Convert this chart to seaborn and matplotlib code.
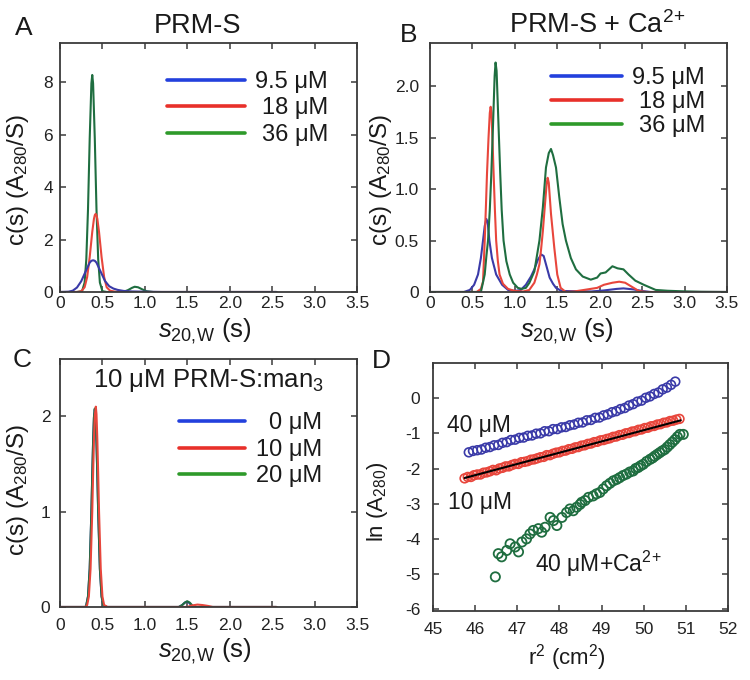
import matplotlib
matplotlib.use("Agg")
import matplotlib.pyplot as plt
import seaborn as sns
from matplotlib.lines import Line2D

# ---------------- data ----------------
s_ticks = [0, 0.5, 1.0, 1.5, 2.0, 2.5, 3.0, 3.5]
s_ticklabels = ["0", "0.5", "1.0", "1.5", "2.0", "2.5", "3.0", "3.5"]

# Panel A: PRM-S
a_blue_s = [0.0, 0.1, 0.15, 0.2, 0.25, 0.3, 0.35, 0.37, 0.39, 0.41, 0.43, 0.48, 0.53, 0.58, 0.63, 0.68, 0.75, 0.85, 1.0, 1.2, 2.55]
a_blue_c = [0.0, 0.01, 0.05, 0.17, 0.41, 0.77, 1.12, 1.19, 1.21, 1.19, 1.12, 0.77, 0.42, 0.22, 0.13, 0.08, 0.04, 0.02, 0.01, 0.0, 0.0]
a_red_s = [0.0, 0.2, 0.25, 0.29, 0.32, 0.35, 0.38, 0.40, 0.41, 0.42, 0.43, 0.44, 0.46, 0.49, 0.52, 0.55, 0.59, 0.65, 0.8, 2.55]
a_red_c = [0.0, 0.0, 0.025, 0.18, 0.57, 1.33, 2.29, 2.79, 2.93, 2.98, 2.93, 2.79, 2.29, 1.33, 0.57, 0.18, 0.05, 0.01, 0.0, 0.0]
a_green_s = [0.0, 0.2, 0.26, 0.29, 0.31, 0.33, 0.35, 0.37, 0.38, 0.39, 0.41, 0.43, 0.45, 0.47, 0.50, 0.55, 0.7, 0.75, 0.8, 0.85, 0.88, 0.92, 0.97, 1.02, 1.1, 2.55]
a_green_c = [0.0, 0.0, 0.03, 0.36, 1.25, 3.15, 5.85, 7.96, 8.28, 7.96, 5.85, 3.15, 1.25, 0.36, 0.03, 0.0, 0.0, 0.01, 0.07, 0.16, 0.2, 0.18, 0.1, 0.03, 0.0, 0.0]
a_yticks = [0, 2, 4, 6, 8]
a_labels = ["9.5 \u03bcM", "18 \u03bcM", "36 \u03bcM"]

# Panel B: PRM-S + Ca2+
b_blue_s = [0.0, 0.4, 0.47, 0.52, 0.566, 0.6, 0.625, 0.645, 0.664, 0.68, 0.70, 0.73, 0.78, 0.85, 0.92, 1.0, 1.07, 1.13, 1.19, 1.23, 1.27, 1.31, 1.34, 1.37, 1.41, 1.45, 1.485, 1.55, 1.9, 2.05, 2.2, 2.28, 2.4, 2.5, 2.6, 3.5]
b_blue_c = [0.0, 0.0, 0.02, 0.07, 0.17, 0.33, 0.5, 0.64, 0.71, 0.68, 0.5, 0.33, 0.17, 0.07, 0.02, 0.01, 0.02, 0.07, 0.15, 0.22, 0.31, 0.365, 0.35, 0.26, 0.14, 0.08, 0.04, 0.01, 0.005, 0.015, 0.03, 0.035, 0.025, 0.01, 0.0, 0.0]
b_red_s = [0.0, 0.55, 0.6, 0.625, 0.645, 0.66, 0.672, 0.69, 0.705, 0.715, 0.725, 0.74, 0.75, 0.765, 0.78, 0.80, 0.82, 0.86, 0.92, 1.0, 1.1, 1.17, 1.23, 1.26, 1.29, 1.31, 1.33, 1.355, 1.375, 1.387, 1.40, 1.426, 1.445, 1.465, 1.50, 1.54, 1.6, 1.7, 1.97, 2.05, 2.15, 2.23, 2.3, 2.38, 2.46, 2.55, 3.5]
b_red_c = [0.0, 0.0, 0.03, 0.1, 0.5, 0.85, 1.15, 1.5, 1.74, 1.80, 1.74, 1.4, 1.15, 0.8, 0.5, 0.3, 0.17, 0.08, 0.03, 0.01, 0.005, 0.02, 0.09, 0.17, 0.27, 0.42, 0.59, 0.85, 1.05, 1.11, 1.06, 0.76, 0.6, 0.43, 0.17, 0.04, 0.0, 0.005, 0.04, 0.07, 0.09, 0.10, 0.09, 0.05, 0.01, 0.0, 0.0]
b_green_s = [0.0, 0.6, 0.645, 0.665, 0.684, 0.705, 0.723, 0.74, 0.75, 0.762, 0.773, 0.785, 0.80, 0.815, 0.828, 0.845, 0.867, 0.90, 0.94, 0.98, 1.035, 1.08, 1.13, 1.172, 1.23, 1.29, 1.33, 1.367, 1.40, 1.426, 1.45, 1.485, 1.524, 1.563, 1.602, 1.66, 1.72, 1.80, 1.895, 1.97, 2.01, 2.07, 2.15, 2.21, 2.28, 2.34, 2.42, 2.52, 2.66, 2.8, 3.0, 3.2, 3.5]
b_green_c = [0.0, 0.0, 0.17, 0.35, 0.5, 0.8, 1.15, 1.55, 1.8, 2.1, 2.23, 2.15, 1.8, 1.45, 1.15, 0.8, 0.5, 0.3, 0.17, 0.09, 0.04, 0.03, 0.04, 0.09, 0.2, 0.5, 0.82, 1.21, 1.35, 1.39, 1.33, 1.21, 0.92, 0.66, 0.5, 0.33, 0.22, 0.15, 0.12, 0.14, 0.18, 0.19, 0.25, 0.23, 0.22, 0.17, 0.11, 0.07, 0.02, 0.012, 0.006, 0.002, 0.0]
b_yticks = [0, 0.5, 1.0, 1.5, 2.0]
b_yticklabels = ["0", "0.5", "1.0", "1.5", "2.0"]
b_labels = ["9.5 \u03bcM", "18 \u03bcM", "36 \u03bcM"]

# Panel C: 10 uM PRM-S:man3
c_blue_s = [0.0, 0.3, 0.31, 0.33, 0.35, 0.37, 0.38, 0.39, 0.40, 0.41, 0.42, 0.43, 0.44, 0.45, 0.47, 0.49, 0.51, 0.55, 1.40, 1.44, 1.47, 1.49, 1.52, 1.55, 1.6, 2.55]
c_blue_c = [0.0, 0.0, 0.02, 0.11, 0.4, 1.0, 1.37, 1.72, 1.98, 2.07, 1.98, 1.72, 1.37, 1.0, 0.4, 0.11, 0.02, 0.0, 0.0, 0.02, 0.045, 0.055, 0.045, 0.015, 0.0, 0.0]
c_red_s = [0.0, 0.3, 0.32, 0.34, 0.36, 0.38, 0.39, 0.40, 0.41, 0.422, 0.43, 0.44, 0.45, 0.46, 0.48, 0.50, 0.52, 0.56, 1.5, 1.55, 1.62, 1.68, 1.75, 1.8, 2.55]
c_red_c = [0.0, 0.0, 0.02, 0.11, 0.4, 1.0, 1.39, 1.75, 2.0, 2.1, 2.02, 1.75, 1.39, 1.0, 0.4, 0.11, 0.02, 0.0, 0.0, 0.015, 0.025, 0.02, 0.01, 0.0, 0.0]
c_green_s = [0.0, 0.3, 0.31, 0.33, 0.35, 0.37, 0.38, 0.39, 0.40, 0.41, 0.42, 0.43, 0.44, 0.45, 0.47, 0.49, 0.51, 0.55, 1.40, 1.44, 1.47, 1.50, 1.53, 1.56, 1.6, 2.55]
c_green_c = [0.0, 0.0, 0.02, 0.11, 0.4, 1.0, 1.38, 1.73, 1.99, 2.08, 1.99, 1.73, 1.38, 1.0, 0.4, 0.11, 0.02, 0.0, 0.0, 0.02, 0.045, 0.06, 0.045, 0.015, 0.0, 0.0]
c_yticks = [0, 1, 2]
c_labels = ["0 \u03bcM", "10 \u03bcM", "20 \u03bcM"]

# Panel D: ln(A280) vs r^2
d_blue_r2 = [45.85, 45.95, 46.05, 46.15, 46.25, 46.35, 46.45, 46.55, 46.65, 46.75, 46.85, 46.95, 47.05, 47.15, 47.25, 47.35, 47.45, 47.55, 47.65, 47.75, 47.85, 47.95, 48.05, 48.15, 48.25, 48.35, 48.45, 48.55, 48.65, 48.75, 48.85, 48.95, 49.05, 49.15, 49.25, 49.35, 49.45, 49.55, 49.65, 49.75, 49.85, 49.95, 50.05, 50.15, 50.25, 50.35, 50.45, 50.55, 50.65, 50.75]
d_blue_ln = [-1.54, -1.50, -1.48, -1.46, -1.41, -1.39, -1.34, -1.33, -1.27, -1.25, -1.19, -1.18, -1.13, -1.12, -1.07, -1.06, -1.01, -1.00, -0.94, -0.94, -0.88, -0.88, -0.83, -0.82, -0.77, -0.75, -0.70, -0.69, -0.63, -0.62, -0.56, -0.55, -0.49, -0.46, -0.40, -0.37, -0.31, -0.28, -0.21, -0.17, -0.10, -0.07, 0.01, 0.05, 0.12, 0.16, 0.25, 0.30, 0.38, 0.47]
d_red_r2 = [45.75, 45.825, 45.9, 45.975, 46.05, 46.125, 46.2, 46.275, 46.35, 46.425, 46.5, 46.575, 46.65, 46.725, 46.8, 46.875, 46.95, 47.025, 47.1, 47.175, 47.25, 47.325, 47.4, 47.475, 47.55, 47.625, 47.7, 47.775, 47.85, 47.925, 48.0, 48.075, 48.15, 48.225, 48.3, 48.375, 48.45, 48.525, 48.6, 48.675, 48.75, 48.825, 48.9, 48.975, 49.05, 49.125, 49.2, 49.275, 49.35, 49.425, 49.5, 49.575, 49.65, 49.725, 49.8, 49.875, 49.95, 50.025, 50.1, 50.175, 50.25, 50.325, 50.4, 50.475, 50.55, 50.625, 50.7, 50.775, 50.85]
d_red_ln = [-2.28, -2.24, -2.24, -2.19, -2.17, -2.17, -2.12, -2.11, -2.08, -2.04, -2.05, -2.00, -1.98, -1.94, -1.94, -1.90, -1.87, -1.87, -1.82, -1.81, -1.79, -1.75, -1.74, -1.71, -1.68, -1.67, -1.62, -1.62, -1.58, -1.55, -1.54, -1.50, -1.49, -1.45, -1.44, -1.40, -1.39, -1.35, -1.34, -1.30, -1.29, -1.25, -1.24, -1.20, -1.19, -1.16, -1.14, -1.10, -1.09, -1.05, -1.04, -1.00, -0.99, -0.95, -0.94, -0.90, -0.89, -0.85, -0.84, -0.80, -0.79, -0.75, -0.74, -0.70, -0.69, -0.65, -0.64, -0.61, -0.59]
d_fit_r2 = [45.75, 50.88]
d_fit_ln = [-2.27, -0.63]
d_green_r2 = [46.48, 46.55, 46.63, 46.75, 46.83, 46.95, 47.03, 47.11, 47.22, 47.30, 47.38, 47.50, 47.58, 47.66, 47.78, 47.86, 47.94, 48.06, 48.17, 48.25, 48.33, 48.41, 48.49, 48.53, 48.61, 48.69, 48.80, 48.88, 48.96, 49.04, 49.12, 49.20, 49.28, 49.36, 49.43, 49.51, 49.59, 49.67, 49.75, 49.81, 49.87, 49.93, 49.99, 50.07, 50.15, 50.21, 50.26, 50.32, 50.38, 50.44, 50.50, 50.56, 50.62, 50.68, 50.74, 50.80, 50.86, 50.94]
d_green_ln = [-5.08, -4.42, -4.51, -4.33, -4.14, -4.23, -4.37, -4.09, -4.00, -3.86, -3.76, -3.71, -3.81, -3.67, -3.39, -3.48, -3.62, -3.39, -3.25, -3.15, -3.20, -3.10, -3.02, -2.96, -2.91, -2.82, -2.78, -2.72, -2.68, -2.58, -2.49, -2.42, -2.35, -2.31, -2.26, -2.20, -2.16, -2.10, -2.07, -2.00, -1.97, -1.92, -1.88, -1.80, -1.74, -1.70, -1.65, -1.60, -1.55, -1.50, -1.46, -1.39, -1.32, -1.25, -1.18, -1.10, -1.03, -1.03]
d_xticks = [45, 46, 47, 48, 49, 50, 51, 52]
d_yticks = [0, -1, -2, -3, -4, -5, -6]

# ---------------- style ----------------
sns.set_theme(style="ticks")
plt.rcParams.update({
    "font.family": ["Liberation Sans", "DejaVu Sans"],
    "mathtext.fontset": "custom",
    "mathtext.rm": "Liberation Sans",
    "mathtext.it": "Liberation Sans:italic",
    "mathtext.bf": "Liberation Sans:bold",
    "axes.unicode_minus": False,
    "xtick.direction": "in", "ytick.direction": "in",
    "xtick.top": True, "ytick.right": True,
    "axes.edgecolor": "#3a3a3a", "axes.linewidth": 1.3,
    "xtick.color": "#3a3a3a", "ytick.color": "#3a3a3a",
    "xtick.labelcolor": "#222222", "ytick.labelcolor": "#222222",
    "xtick.major.size": 4, "ytick.major.size": 4,
    "xtick.major.width": 1.1, "ytick.major.width": 1.1,
    "axes.facecolor": "white", "figure.facecolor": "white",
    "text.color": "#1a1a1a", "axes.labelcolor": "#1a1a1a",
})

BLUE_L, RED_L, GREEN_L = "#3a3aa8", "#e8463c", "#1f6e40"
BLUE_K, RED_K, GREEN_K = "#2340dd", "#e8302a", "#2e9a2a"

fig = plt.figure(figsize=(7.5, 6.8), dpi=100)
axA = fig.add_axes([0.08, 0.5706, 0.396, 0.3662])
axB = fig.add_axes([0.5733, 0.5706, 0.396, 0.3662])
axC = fig.add_axes([0.08, 0.1074, 0.396, 0.3647])
axD = fig.add_axes([0.5773, 0.1015, 0.3933, 0.3647])

TICK_FS = 12.5
LW = 1.5
LEG_FS = 17
YLAB_FS = 17.5
S_LABEL = r"$s_{20,\!\mathrm{W}}$ (s)"


def line(ax, x, y, color):
    sns.lineplot(x=x, y=y, color=color, lw=LW, ax=ax, estimator=None, sort=False)


def right_legend(ax, labels, anchor, spacing, hlen):
    handles = [Line2D([], [], color=c, lw=2.6) for c in (BLUE_K, RED_K, GREEN_K)]
    leg = ax.legend(handles, labels, loc="upper right", bbox_to_anchor=anchor,
                    frameon=False, fontsize=LEG_FS, handlelength=hlen,
                    handletextpad=0.45, labelspacing=spacing, borderpad=0,
                    borderaxespad=0)
    fig.canvas.draw()
    r = fig.canvas.get_renderer()
    texts = leg.get_texts()
    widths = [t.get_window_extent(r).width for t in texts]
    wmax = max(widths)
    for t, w in zip(texts, widths):
        t.set_position((wmax - w, 0))
    return leg


def s_axis(ax, xpad):
    ax.set_xlim(0, 3.5)
    ax.set_xticks(s_ticks)
    ax.set_xticklabels(s_ticklabels)
    ax.tick_params(axis="x", labelsize=TICK_FS, pad=xpad)
    ax.set_xlabel(S_LABEL, fontsize=18.5)


# ----- A -----
line(axA, a_green_s, a_green_c, GREEN_L)
line(axA, a_red_s, a_red_c, RED_L)
line(axA, a_blue_s, a_blue_c, BLUE_L)
axA.set_ylim(0, 9.5)
axA.set_yticks(a_yticks)
axA.tick_params(axis="y", labelsize=TICK_FS, pad=5)
s_axis(axA, 3)
axA.set_ylabel(r"c(s) (A$_{280}$/S)", fontsize=YLAB_FS)
axA.yaxis.set_label_coords(-0.097, 0.45)
axA.xaxis.set_label_coords(0.488, -0.10)

# ----- B -----
line(axB, b_blue_s, b_blue_c, BLUE_L)
line(axB, b_red_s, b_red_c, RED_L)
line(axB, b_green_s, b_green_c, GREEN_L)
axB.set_ylim(0, 2.42)
axB.set_yticks(b_yticks)
axB.set_yticklabels(b_yticklabels)
axB.tick_params(axis="y", labelsize=TICK_FS, pad=8)
s_axis(axB, 3)
axB.set_ylabel(r"c(s) (A$_{280}$/S)", fontsize=YLAB_FS)
axB.yaxis.set_label_coords(-0.122, 0.45)
axB.xaxis.set_label_coords(0.46, -0.10)

# ----- C -----
line(axC, c_blue_s, c_blue_c, BLUE_L)
line(axC, c_green_s, c_green_c, GREEN_L)
line(axC, c_red_s, c_red_c, RED_L)
axC.set_ylim(0, 2.6)
axC.set_yticks(c_yticks)
axC.tick_params(axis="y", labelsize=TICK_FS, pad=7)
s_axis(axC, 8)
axC.set_ylabel(r"c(s) (A$_{280}$/S)", fontsize=YLAB_FS)
axC.yaxis.set_label_coords(-0.097, 0.47)
axC.xaxis.set_label_coords(0.488, -0.12)
axC.text(0.50, 0.915, "10 \u03bcM PRM-S:man$_3$", transform=axC.transAxes,
         ha="center", va="center", fontsize=18.5)

# ----- D -----
sns.scatterplot(x=d_blue_r2, y=d_blue_ln, ax=axD, marker="o", s=40,
                facecolors="none", edgecolor=BLUE_L, linewidth=1.2)
sns.scatterplot(x=d_red_r2, y=d_red_ln, ax=axD, marker="o", s=40,
                facecolors="none", edgecolor=RED_L, linewidth=1.2)
sns.lineplot(x=d_fit_r2, y=d_fit_ln, ax=axD, color="black", lw=1.5)
sns.scatterplot(x=d_green_r2, y=d_green_ln, ax=axD, marker="o", s=44,
                facecolors="none", edgecolor=GREEN_L, linewidth=1.3)
axD.set_xlim(45, 52)
axD.set_ylim(-6.05, 1.0)
axD.set_xticks(d_xticks)
axD.set_yticks(d_yticks)
axD.tick_params(axis="x", labelsize=TICK_FS, pad=8)
axD.tick_params(axis="y", labelsize=TICK_FS, pad=9)
axD.set_xlabel(r"r$^2$ (cm$^2$)", fontsize=16)
axD.set_ylabel(r"ln (A$_{280}$)", fontsize=16)
axD.yaxis.set_label_coords(-0.146, 0.44)
axD.xaxis.set_label_coords(0.454, -0.125)
axD.text(45.33, -0.77, "40 \u03bcM", fontsize=16.5, ha="left", va="center")
axD.text(45.36, -2.97, "10 \u03bcM", fontsize=16.5, ha="left", va="center")
axD.text(47.42, -4.70, "40 \u03bcM+Ca$^{2\\!+}$", fontsize=16.5, ha="left", va="center")

for ax in (axA, axB, axC, axD):
    for sp in ax.spines.values():
        sp.set_visible(True)

# legends
right_legend(axA, a_labels, (0.902, 0.888), 0.19, 3.3)
right_legend(axB, b_labels, (0.926, 0.903), 0.08, 3.0)
right_legend(axC, c_labels, (0.882, 0.785), 0.19, 2.8)

# titles and panel letters
fig.text(0.263, 0.951, "PRM-S", fontsize=19.5, ha="center", va="baseline")
fig.text(0.796, 0.951, "PRM-S + Ca$^{2\\!+}$", fontsize=19.5, ha="center", va="baseline")
fig.text(0.02, 0.9485, "A", fontsize=19, ha="left", va="baseline")
fig.text(0.533, 0.938, "B", fontsize=19, ha="left", va="baseline")
fig.text(0.017, 0.46, "C", fontsize=19, ha="left", va="baseline")
fig.text(0.496, 0.459, "D", fontsize=19, ha="left", va="baseline")

fig.savefig("out.png", dpi=100)
